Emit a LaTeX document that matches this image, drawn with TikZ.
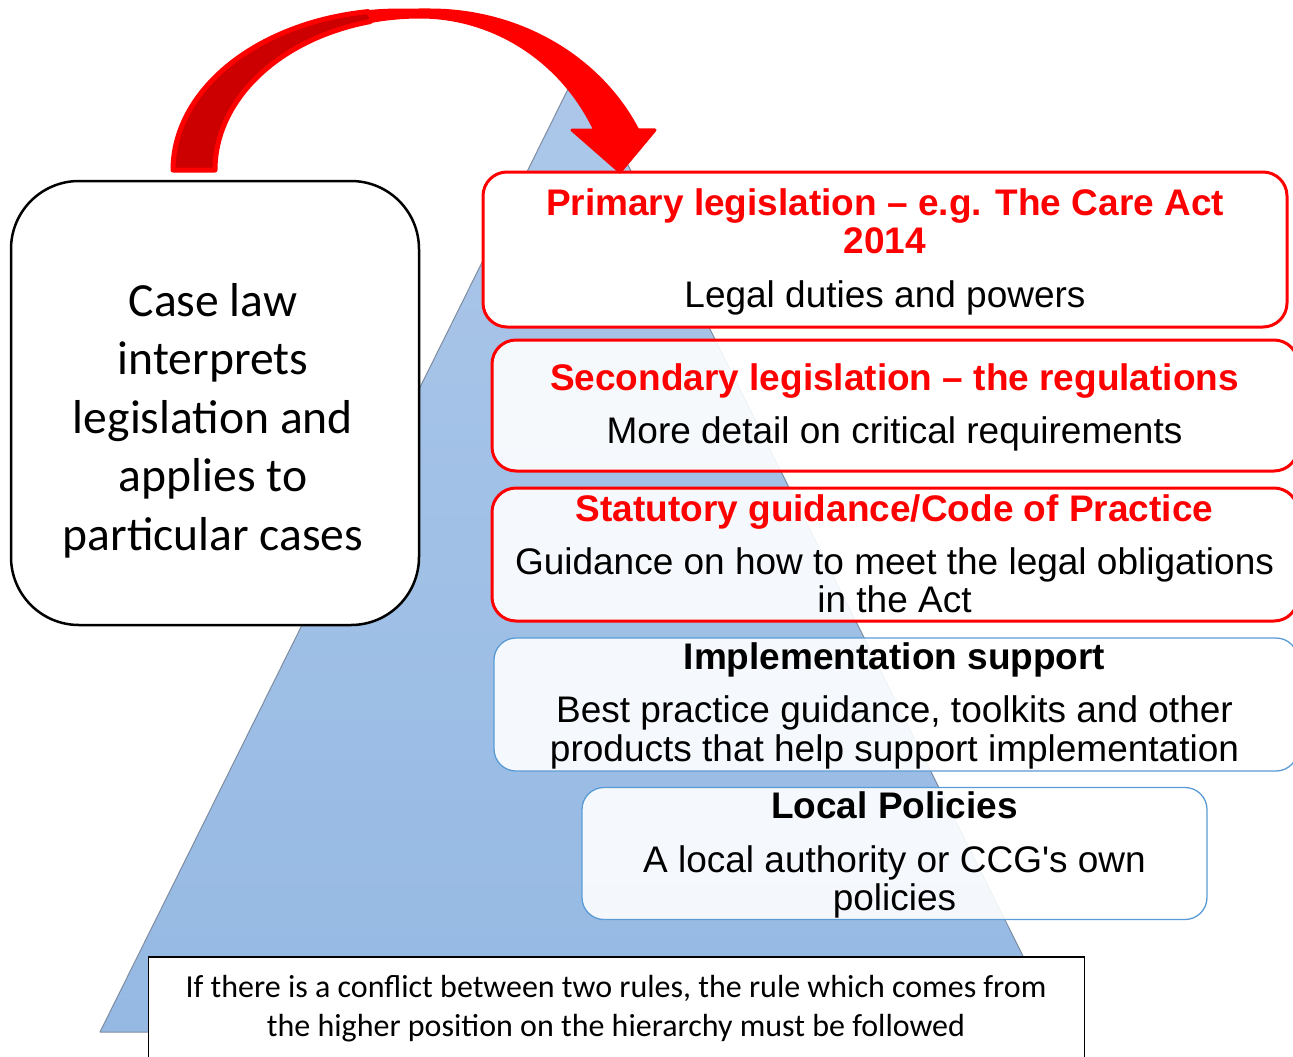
\documentclass[tikz,border=0pt]{standalone}
\usepackage{fontspec}
\setmainfont{Liberation Sans}
\newfontfamily\calibri{Carlito}
\newcommand{\straightquote}{\XeTeXglyph\XeTeXcharglyph"0027\relax}
\definecolor{tri}{RGB}{149,185,227}
\definecolor{tritop}{RGB}{172,199,233}
\definecolor{triedge}{RGB}{125,140,160}
\definecolor{hred}{RGB}{255,0,0}
\definecolor{dred}{RGB}{204,0,0}
\definecolor{bblue}{RGB}{91,155,213}
\begin{document}
\begin{tikzpicture}[x=1pt,y=-1pt,
  redbox/.style={draw=hred, line width=3pt, fill=white, fill opacity=0.9, rounded corners=24pt, inner sep=0pt},
  bluebox/.style={draw=bblue, line width=1.3pt, fill=white, fill opacity=0.9, rounded corners=22pt, inner sep=0pt},
  body/.style={font=\fontsize{37}{39}\selectfont, anchor=base, inner sep=0pt},
  redhead/.style={font=\fontsize{37}{39}\selectfont\bfseries, text=hred, anchor=base, inner sep=0pt},
  blackhead/.style={font=\fontsize{37}{39}\selectfont\bfseries, anchor=base, inner sep=0pt},
  caseline/.style={font=\calibri\fontsize{47.6}{59}\selectfont, anchor=base, inner sep=0pt},
  noteline/.style={font=\calibri\fontsize{32}{39}\selectfont, anchor=base, inner sep=0pt}
]
\useasboundingbox (0,0) rectangle (1293,1057);
% pyramid
\shade[top color=tritop, bottom color=tri] (579,67) -- (1061,1032) -- (100,1032) -- cycle;
\draw[triedge, line width=1pt, line join=round] (579,67) -- (1061,1032) -- (100,1032) -- cycle;

% right boxes
\node[redbox, fill opacity=1, minimum width=804pt, minimum height=155pt] (primary) at (885,249.5) {};
\node[redbox, minimum width=806pt, minimum height=131pt] (secondary) at (895,405.5) {};
\node[redbox, minimum width=806pt, minimum height=133pt] (statutory) at (895,554.5) {};
\node[bluebox, minimum width=804pt, minimum height=133pt] (impl) at (896,704.5) {};
\node[bluebox, minimum width=625pt, minimum height=132pt] (local) at (894.5,853.5) {};

% texts
\node[redhead] (p1) at (885,215) {Primary legislation -- e.g. The Care Act};
\node[redhead] (p2) at (885,253) {2014};
\node[body] (p3) at (885,307) {Legal duties and powers};

\node[redhead] (s1) at (894.5,390) {Secondary legislation -- the regulations};
\node[body] (s2) at (894.5,443) {More detail on critical requirements};

\node[redhead] (g1) at (894.5,521) {Statutory guidance/Code of Practice};
\node[body] (g2) at (894.5,574) {Guidance on how to meet the legal obligations};
\node[body] (g3) at (894.5,612) {in the Act};

\node[blackhead] (i1) at (894.5,669) {Implementation support};
\node[body] (i2) at (894.5,722) {Best practice guidance, toolkits and other};
\node[body] (i3) at (894.5,761) {products that help support implementation};

\node[blackhead] (l1) at (894.5,818) {Local Policies};
\node[body] (l2) at (894.5,872) {A local authority or CCG\straightquote s own};
\node[body] (l3) at (894.5,910) {policies};

% case law box
\node[draw=black, line width=2.5pt, fill=white, rounded corners=68pt, minimum width=408pt, minimum height=444pt, inner sep=0pt] (caselaw) at (215,403) {};
\node[caseline] (c1) at (213,316) {Case law};
\node[caseline] (c2) at (213,374.5) {interprets};
\node[caseline] (c3) at (213,433) {legislation and};
\node[caseline] (c4) at (213,491.5) {applies to};
\node[caseline] (c5) at (213,550) {particular cases};

% bottom note
\node[draw=black, line width=1.2pt, fill=white, minimum width=936pt, minimum height=114pt, inner sep=0pt] (note) at (616.5,1014) {};
\node[noteline] (n1) at (616,997) {If there is a conflict between two rules, the rule which comes from};
\node[noteline] (n2) at (616,1036) {the higher position on the hierarchy must be followed};

% curved arrow
\path[fill=hred, draw=hred, line width=3pt, line join=round]
  (173,170)
  -- plot[domain=180:270, samples=50, variable=\t] ({400+227*cos(\t)},{170+160*sin(\t)})
  -- plot[domain=270:334.6, samples=50, variable=\t] ({430+230*cos(\t)},{220+210*sin(\t)})
  -- (655,130) -- (620,172) -- (572,130) -- (594.8,130)
  -- plot[domain=333.7:270, samples=50, variable=\t] ({420+195*cos(\t)},{220+203*sin(\t)})
  -- plot[domain=270:180, samples=50, variable=\t] ({420+205*cos(\t)},{170+153*sin(\t)})
  -- cycle;
\path[fill=dred, draw=hred, line width=5pt, line join=round]
  (173,170)
  -- plot[domain=180:262, samples=50, variable=\t] ({400+227*cos(\t)},{170+160*sin(\t)})
  -- (372,18)
  -- plot[domain=256:180, samples=50, variable=\t] ({420+205*cos(\t)},{170+153*sin(\t)})
  -- cycle;
\end{tikzpicture}
\end{document}
